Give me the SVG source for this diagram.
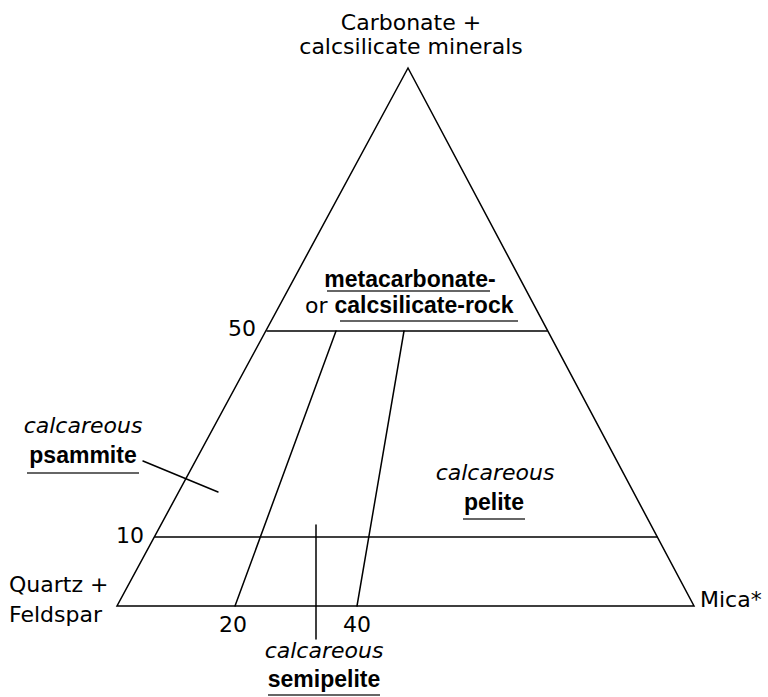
<svg xmlns="http://www.w3.org/2000/svg" width="768" height="697" viewBox="0 0 768 697">
<style>
.ln{stroke:#000;stroke-width:1.5;fill:none;stroke-linecap:round}
.ul{stroke:#333;stroke-width:1.4;fill:none}
.r{font-family:"DejaVu Sans","Liberation Sans",sans-serif;font-size:22px;fill:#000}
.i{font-family:"DejaVu Sans","Liberation Sans",sans-serif;font-size:22px;font-style:italic;fill:#000}
.b{font-family:"Liberation Sans",Arial,sans-serif;font-size:23px;font-weight:bold;fill:#000}
</style>
<rect width="768" height="697" fill="#fff"/>
<g id="connectors">
<polygon class="ln" points="408,68 117,606 694,606" stroke-linejoin="miter"/>
<line class="ln" x1="267" y1="331" x2="547" y2="331"/>
<line class="ln" x1="155" y1="537" x2="657" y2="537"/>
<line class="ln" x1="336" y1="331" x2="235" y2="606"/>
<line class="ln" x1="404" y1="331" x2="357" y2="606"/>
<line class="ln" x1="316" y1="525" x2="316" y2="639"/>
<line class="ln" x1="143" y1="461" x2="218" y2="492"/>
</g>
<g id="apex-label">
<text class="r" x="411" y="30" text-anchor="middle">Carbonate +</text>
<text class="r" x="411" y="54" text-anchor="middle">calcsilicate minerals</text>
</g>
<g id="quartz-label">
<text class="r" x="9" y="592">Quartz +</text>
<text class="r" x="9" y="622">Feldspar</text>
</g>
<g id="mica-label">
<text class="r" x="700" y="607">Mica*</text>
</g>
<g id="ticks">
<text class="r" x="256" y="336" text-anchor="end">50</text>
<text class="r" x="144" y="543" text-anchor="end">10</text>
<text class="r" x="233" y="632" text-anchor="middle">20</text>
<text class="r" x="357" y="632" text-anchor="middle">40</text>
</g>
<g id="metacarbonate">
<text class="b" x="410" y="287" text-anchor="middle">metacarbonate-</text>
<line class="ul" x1="327" y1="291" x2="490" y2="291"/>
<text x="305" y="313"><tspan class="r">or </tspan><tspan class="b">calcsilicate-rock</tspan></text>
<line class="ul" x1="340" y1="321" x2="518" y2="321"/>
</g>
<g id="psammite">
<text class="i" x="83" y="433" text-anchor="middle">calcareous</text>
<text class="b" x="83" y="463" text-anchor="middle">psammite</text>
<line class="ul" x1="27" y1="473" x2="139" y2="473"/>
</g>
<g id="pelite">
<text class="i" x="495" y="480" text-anchor="middle">calcareous</text>
<text class="b" x="494" y="510" text-anchor="middle">pelite</text>
<line class="ul" x1="463" y1="519" x2="525" y2="519"/>
</g>
<g id="semipelite">
<text class="i" x="324" y="658" text-anchor="middle">calcareous</text>
<text class="b" x="324" y="687" text-anchor="middle">semipelite</text>
<line class="ul" x1="268" y1="695" x2="380" y2="695"/>
</g>
</svg>
